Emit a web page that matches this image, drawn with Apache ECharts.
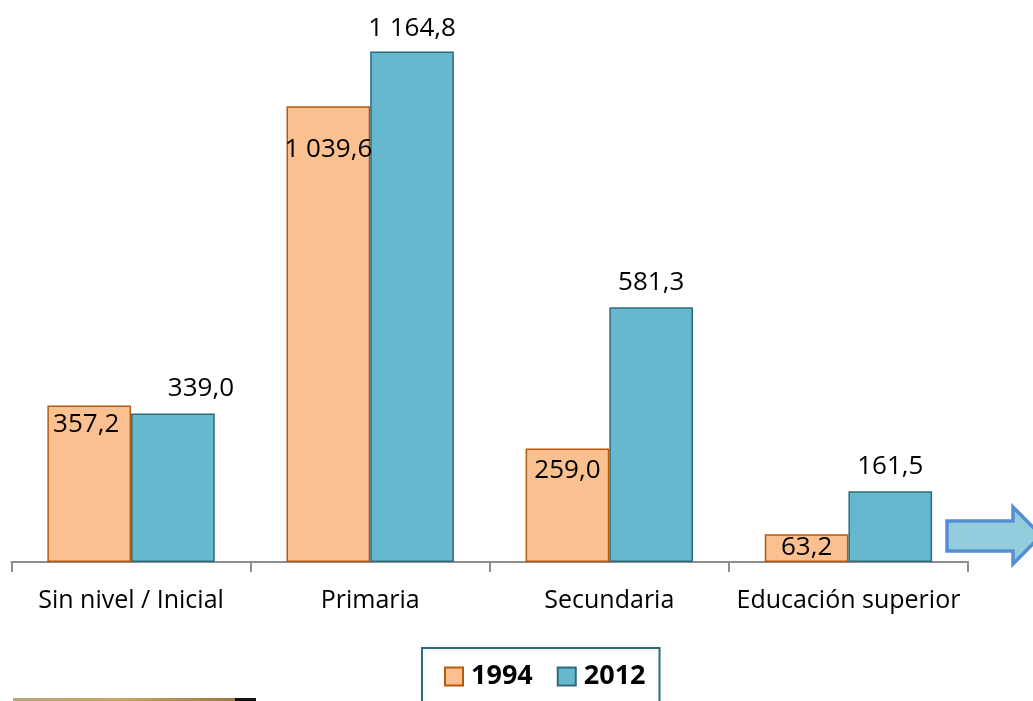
<!DOCTYPE html>
<html>
<head>
<meta charset="utf-8">
<script src="https://cdn.jsdelivr.net/npm/echarts@6/dist/echarts.min.js"></script>
<style>
html,body{margin:0;padding:0;background:#fff;}
#chart{width:1033px;height:701px;}
</style>
</head>
<body>
<div id="chart"></div>
<script>
const categories = ['Sin nivel / Inicial', 'Primaria', 'Secundaria', 'Educación superior'];
const seriesNames = ['1994', '2012'];
const values1994 = [357.2, 1039.6, 259.0, 63.2];
const values2012 = [339.0, 1164.8, 581.3, 161.5];

// label placement tweaks (styling only)
const tweak1994 = [{d: 6, dx: -3}, {d: 30, dx: 0}, {d: 9, dx: 0}, {d: 0, dx: 0}];
const tweak2012 = [{d: 12, dx: 28}, {d: 10, dx: 0}, {d: 12, dx: 0}, {d: 12, dx: 0}];

function fmt(v) {
  const s = v.toFixed(1).split('.');
  return s[0].replace(/\B(?=(\d{3})+(?!\d))/g, ' ') + ',' + s[1];
}

const FONT = '"Open Sans", "Noto Sans", sans-serif';

const chart = echarts.init(document.getElementById('chart'), null, {renderer: 'canvas'});

const data1994 = values1994.map((v, i) => ({
  value: v,
  label: {position: 'insideTop', distance: tweak1994[i].d, offset: [tweak1994[i].dx, 0]}
}));
const data2012 = values2012.map((v, i) => ({
  value: v,
  label: {position: 'top', distance: tweak2012[i].d, offset: [tweak2012[i].dx, 0]}
}));

const option = {
  animation: false,
  backgroundColor: '#ffffff',
  grid: {left: 11.5, right: 65, top: 36, bottom: 139, containLabel: false},
  xAxis: {
    type: 'category',
    data: categories,
    boundaryGap: true,
    axisLine: {show: true, lineStyle: {color: '#8e8e8e', width: 2}},
    axisTick: {show: true, length: 10, lineStyle: {color: '#8e8e8e', width: 2}},
    axisLabel: {color: '#000', fontSize: 25, fontFamily: FONT, margin: 26, interval: 0},
    splitLine: {show: false}
  },
  yAxis: {
    type: 'value', min: 0, max: 1200, show: false,
    splitLine: {show: false}
  },
  legend: {
    data: seriesNames,
    left: 422, top: 648,
    orient: 'horizontal',
    itemWidth: 18, itemHeight: 18, itemGap: 24,
    borderColor: '#2c6b7f', borderWidth: 2,
    padding: [15, 14, 40, 22],
    textStyle: {color: '#000', fontSize: 27, fontWeight: 'bold', fontFamily: FONT, padding: [0, 0, 0, 3]},
    icon: 'rect'
  },
  series: [
    {
      name: '1994', type: 'bar', data: data1994,
      barGap: '0%', barCategoryGap: '30%',
      itemStyle: {color: '#fac090', borderColor: '#b45a0c', borderWidth: 1.5},
      label: {show: true, color: '#000', fontSize: 26, fontFamily: FONT, formatter: p => fmt(p.value)}
    },
    {
      name: '2012', type: 'bar', data: data2012,
      barGap: '0%', barCategoryGap: '30%',
      itemStyle: {color: '#66b8cf', borderColor: '#2f6b7f', borderWidth: 1.5},
      label: {show: true, color: '#000', fontSize: 26, fontFamily: FONT, formatter: p => fmt(p.value)}
    }
  ],
  graphic: [
    {
      type: 'polygon', z: 100,
      shape: {points: [[947, 521], [1013, 521], [1013, 507], [1041, 535.5], [1013, 564], [1013, 551], [947, 551]]},
      style: {fill: '#93cddd', stroke: '#558ed5', lineWidth: 3.5}
    },
    {
      type: 'rect', z: 100,
      shape: {x: 13, y: 698, width: 222, height: 3},
      style: {fill: new echarts.graphic.LinearGradient(0, 0, 1, 0, [
        {offset: 0, color: '#b8a67e'}, {offset: 0.5, color: '#c9a562'}, {offset: 1, color: '#9a7844'}
      ])}
    },
    {
      type: 'rect', z: 100,
      shape: {x: 235, y: 698, width: 21, height: 3},
      style: {fill: '#111111'}
    }
  ]
};
chart.setOption(option);
</script>
</body>
</html>
